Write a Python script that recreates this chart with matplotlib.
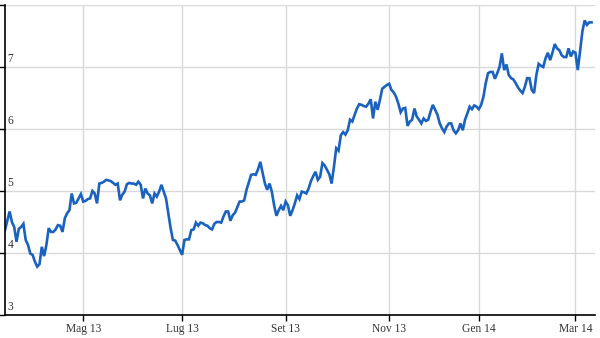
import numpy as np
import matplotlib
matplotlib.use("Agg")
import matplotlib.pyplot as plt
import matplotlib.transforms as mtransforms

# closing prices, one per trading session
prices = [
    4.37, 4.52, 4.67, 4.50, 4.42, 4.18, 4.39, 4.42, 4.47, 4.21,
    4.13, 3.99, 3.97, 3.86, 3.78, 3.82, 4.10, 3.95, 4.13, 4.40,
    4.34, 4.34, 4.38, 4.45, 4.44, 4.34, 4.56, 4.64, 4.69, 4.96,
    4.80, 4.81, 4.88, 4.95, 4.83, 4.84, 4.87, 4.88, 5.00, 4.96,
    4.80, 5.12, 5.13, 5.15, 5.18, 5.17, 5.16, 5.13, 5.10, 5.12,
    4.85, 4.94, 4.99, 5.11, 5.13, 5.12, 5.12, 5.10, 5.15, 5.10,
    4.88, 5.04, 4.96, 4.93, 4.80, 4.96, 4.91, 4.99, 5.10, 4.99,
    4.88, 4.64, 4.40, 4.21, 4.20, 4.13, 4.05, 3.97, 4.21, 4.22,
    4.22, 4.37, 4.38, 4.49, 4.44, 4.49, 4.48, 4.45, 4.44, 4.40,
    4.38, 4.47, 4.50, 4.50, 4.49, 4.59, 4.67, 4.67, 4.52, 4.61,
    4.65, 4.74, 4.83, 4.83, 4.85, 5.02, 5.14, 5.26, 5.27, 5.26,
    5.35, 5.47, 5.29, 5.12, 5.02, 5.12, 4.99, 4.77, 4.60, 4.69,
    4.76, 4.69, 4.83, 4.77, 4.60, 4.69, 4.80, 4.93, 4.87, 4.99,
    4.98, 4.96, 5.04, 5.16, 5.24, 5.31, 5.18, 5.23, 5.45, 5.41,
    5.34, 5.27, 5.12, 5.39, 5.69, 5.65, 5.90, 5.95, 5.91, 5.98,
    6.15, 6.12, 6.23, 6.33, 6.40, 6.39, 6.37, 6.36, 6.41, 6.48,
    6.17, 6.44, 6.31, 6.47, 6.65, 6.68, 6.71, 6.73, 6.63, 6.59,
    6.52, 6.41, 6.27, 6.33, 6.34, 6.05, 6.12, 6.15, 6.33, 6.20,
    6.15, 6.09, 6.17, 6.13, 6.15, 6.28, 6.39, 6.31, 6.23, 6.09,
    6.01, 5.95, 6.04, 6.09, 6.09, 5.98, 5.93, 5.98, 6.09, 5.98,
    6.15, 6.25, 6.36, 6.32, 6.38, 6.36, 6.32, 6.39, 6.52, 6.74,
    6.90, 6.92, 6.92, 6.81, 6.90, 7.00, 7.22, 6.95, 7.04, 6.87,
    6.82, 6.80, 6.74, 6.67, 6.62, 6.58, 6.68, 6.82, 6.82, 6.63,
    6.58, 6.87, 7.05, 7.02, 7.00, 7.14, 7.23, 7.11, 7.23, 7.37,
    7.30, 7.27, 7.19, 7.16, 7.16, 7.30, 7.17, 7.25, 7.23, 6.95,
    7.25, 7.57, 7.75, 7.68, 7.72, 7.72,
]
sessions = np.arange(len(prices))

# first session of each labelled month
month_sessions = [34, 77, 122, 167, 206, 248]
month_labels = ["Mag 13", "Lug 13", "Set 13", "Nov 13", "Gen 14", "Mar 14"]
y_ticks = [3, 4, 5, 6, 7, 8]
y_labels = ["3", "4", "5", "6", "7", ""]

serif = ["Liberation Serif", "DejaVu Serif"]

fig = plt.figure(figsize=(6, 3.38), dpi=100)
ax = fig.add_axes([5 / 600, 23 / 338, 590 / 600, 310 / 338])

ax.plot(sessions, prices, color="#1a62bf", linewidth=1.9, solid_joinstyle="miter")

ax.set_xlim(0, 256.5)
ax.set_ylim(3, 8)

ax.set_xticks(month_sessions)
ax.set_xticklabels(month_labels, family=serif, fontsize=8.3, color="#333333")
ax.set_yticks(y_ticks)
ax.set_yticklabels([])

ax.grid(True, color="#d9d9d9", linewidth=1.0)
ax.set_axisbelow(True)

for side in ["top", "right"]:
    ax.spines[side].set_visible(False)
for side in ["left", "bottom"]:
    ax.spines[side].set_color("black")
    ax.spines[side].set_linewidth(1.2)

ax.tick_params(axis="x", length=4, width=1, color="black", pad=2)
ax.tick_params(axis="y", length=5, width=1, color="black")

trans = mtransforms.blended_transform_factory(ax.transAxes, ax.transData)
for val, lab in zip(y_ticks, y_labels):
    ax.text(0.004, val + 0.04, lab, transform=trans, ha="left", va="bottom",
            family=serif, fontsize=8.3, color="#333333")

fig.savefig("out.png", dpi=100)
